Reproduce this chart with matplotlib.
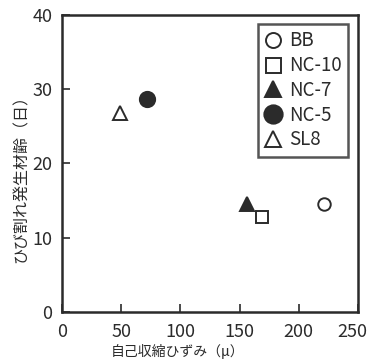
import matplotlib
matplotlib.use('Agg')
import matplotlib.pyplot as plt
import matplotlib.transforms as mtransforms

plt.rcParams['font.family'] = ['Noto Sans CJK JP', 'DejaVu Sans']

# sample names and values
labels = ['BB', 'NC-10', 'NC-7', 'NC-5', 'SL8']
shrinkage = [221, 169, 156, 72, 49]     # autogenous shrinkage strain (μ)
crack_age = [14.6, 12.8, 14.6, 28.7, 26.8]  # crack onset age (days)

markers = ['o', 's', '^', 'o', '^']
filled = [False, False, True, True, False]
sizes = [9, 9, 10, 11, 10]

ink = '#2b2b2b'

fig = plt.figure(figsize=(3.69, 3.62), dpi=100)
ax = fig.add_axes([0.168, 0.138, 0.802, 0.821])

for lab, x, y, m, f, s in zip(labels, shrinkage, crack_age, markers, filled, sizes):
    ax.plot(x, y, linestyle='none', marker=m, markersize=s,
            markerfacecolor=ink if f else 'white',
            markeredgecolor=ink, markeredgewidth=1.4, label=lab)

ax.set_xlim(0, 250)
ax.set_ylim(0, 40)
ax.set_xticks([0, 50, 100, 150, 200, 250])
ax.set_yticks([0, 10, 20, 30, 40])
ax.tick_params(direction='in', length=6, width=1.2, colors=ink, pad=7, labelsize=13)
ax.tick_params(axis='x', pad=8)
for sp in ax.spines.values():
    sp.set_linewidth(1.8)
    sp.set_color(ink)

# last x tick label pulled in a little so it stays inside the figure
last = ax.get_xticklabels()[-1]
last.set_transform(last.get_transform() +
                   mtransforms.ScaledTranslation(-6 / 100, 0, fig.dpi_scale_trans))

ax.set_xlabel('自己収縮ひずみ（μ）', fontsize=10, color=ink)
ax.xaxis.set_label_coords(0.39, -0.108)
ax.set_ylabel('ひび割れ発生材齢（日）', fontsize=11.5, color=ink)
ax.yaxis.set_label_coords(-0.11, 0.46)

leg = ax.legend(loc='upper right', bbox_to_anchor=(0.968, 0.97),
                prop={'size': 13.5},
                frameon=True, fancybox=False, handletextpad=0.4, handlelength=0.9,
                borderpad=0.35, labelspacing=0.2, borderaxespad=0, markerscale=1.2)
leg.get_frame().set_edgecolor(ink)
leg.get_frame().set_linewidth(1.8)
for t in leg.get_texts():
    t.set_color(ink)

fig.savefig('out.png', dpi=100)
